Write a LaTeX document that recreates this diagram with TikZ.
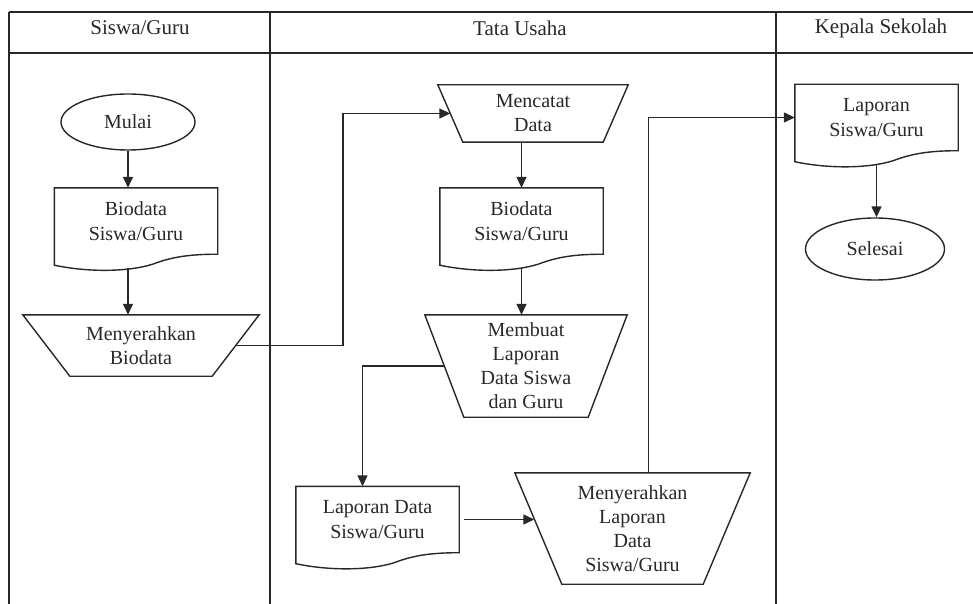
\documentclass[tikz,border=0pt]{standalone}
\usepackage{fontspec}
\setmainfont{Liberation Serif}
\definecolor{inkgray}{RGB}{40, 40, 40}
\usepackage{tikz}
\usetikzlibrary{shapes.geometric, arrows.meta, positioning, calc}

% document symbol with a wavy bottom, drawn round node #1
\newcommand{\docoutline}[1]{%
  \draw[shapeline] ($(#1.south west)+(0,11)$) -- (#1.north west) -- (#1.north east) -- (#1.south east)
    .. controls ($(#1.south east)+(-33,0)$) and ($(#1.south east)+(-49,4)$) .. ($(#1.south east)+(-65,10)$)
    .. controls ($(#1.south west)+(73,18)$) and ($(#1.south west)+(33,18)$) .. ($(#1.south west)+(0,11)$) -- cycle;
  \coordinate (#1-w) at ($(#1.south)+(0,14)$);}

% manual operation: wide top, sides slanting in by #2
\newcommand{\manualop}[2]{%
  \draw[shapeline] (#1.north west) -- (#1.north east) -- ($(#1.south east)+(-#2,0)$) -- ($(#1.south west)+(#2,0)$) -- cycle;
  \coordinate (#1-l) at ($(#1.west)+(#2/2,0)$);
  \coordinate (#1-r) at ($(#1.east)+(-#2/2,0)$);}

\begin{document}
\begin{tikzpicture}[x=1pt, y=-1pt,
  lane/.style={draw=inkgray, line width=1.8pt},
  shapeline/.style={draw=inkgray, line width=1.4pt},
  label/.style={text=inkgray, font=\fontsize{21}{25}\selectfont},
  termnode/.style={ellipse, shapeline, text=inkgray, minimum width=134pt, minimum height=56pt, inner sep=0pt, font=\fontsize{20}{25}\selectfont},
  docnode/.style={rectangle, text=inkgray, align=center, minimum width=163pt, minimum height=66pt, inner sep=0pt, font=\fontsize{20}{25}\selectfont},
  opnode/.style={rectangle, text=inkgray, align=center, inner sep=0pt, font=\fontsize{20}{24}\selectfont},
  flow/.style={draw=inkgray, line width=1.4pt, -{Triangle[length=11pt, width=10pt]}}]

  \useasboundingbox (0,0) rectangle (973,604);

  % swimlanes
  \draw[lane] (9,12) -- (973,12);
  \draw[lane] (9,53) -- (973,53);
  \draw[lane] (9,12) -- (9,604);
  \draw[lane] (270,12) -- (270,604);
  \draw[lane] (776,12) -- (776,604);
  \node[label] (hsiswa) at (140,28) {Siswa/Guru};
  \node[label] (htata) at (520,28) {Tata Usaha};
  \node[label] (hkepala) at (881,28) {Kepala Sekolah};

  % Siswa/Guru
  \node[termnode] (mulai) at (128,122) {Mulai};
  \node[docnode] (bio1) at (136,221) {Biodata\\Siswa/Guru};
  \docoutline{bio1}
  \node[opnode, minimum width=236pt, minimum height=61pt] (mbio) at (141,345.5) {Menyerahkan\\Biodata};
  \manualop{mbio}{47}

  % Tata Usaha
  \node[opnode, minimum width=190pt, minimum height=57pt] (catat) at (533,113.5) {Mencatat\\Data};
  \manualop{catat}{25}
  \node[docnode] (bio2) at (521.5,221) {Biodata\\Siswa/Guru};
  \docoutline{bio2}
  \node[opnode, minimum width=202pt, minimum height=102pt] (buat) at (526,366) {Membuat\\Laporan\\Data Siswa\\dan Guru};
  \manualop{buat}{39}
  \node[docnode] (lapdata) at (377.5,519.5) {Laporan Data\\Siswa/Guru};
  \docoutline{lapdata}
  \node[opnode, minimum width=235pt, minimum height=111pt] (mlap) at (632.5,528.5) {Menyerahkan\\Laporan\\Data\\Siswa/Guru};
  \manualop{mlap}{47}

  % Kepala Sekolah
  \node[docnode] (lapsg) at (876.5,117.5) {Laporan\\Siswa/Guru};
  \docoutline{lapsg}
  \node[termnode, minimum width=139pt, minimum height=62pt] (selesai) at (875,249) {Selesai};

  % connectors
  \draw[flow] (mulai.south) -- (mulai.south |- bio1.north);
  \draw[flow] (mulai |- bio1-w) -- (mulai |- mbio.north);
  \draw[flow] (mbio-r) -| ($(mbio-r)!0.5!(catat-l)$) |- (catat-l);
  \draw[flow] (bio2.north |- catat.south) -- (bio2.north);
  \draw[flow] (bio2-w) -- (bio2-w |- buat.north);
  \draw[flow] (buat-l) -| ($(lapdata.north)+(-15,0)$);
  \draw[flow, shorten <=5pt, shorten >=4pt] (lapdata.east) -- (lapdata.east -| mlap-l);
  \draw[flow] ($(mlap.north)+(16,0)$) |- (lapsg.west);
  \draw[flow] (lapsg-w) -- (lapsg-w |- selesai.north);
\end{tikzpicture}
\end{document}
